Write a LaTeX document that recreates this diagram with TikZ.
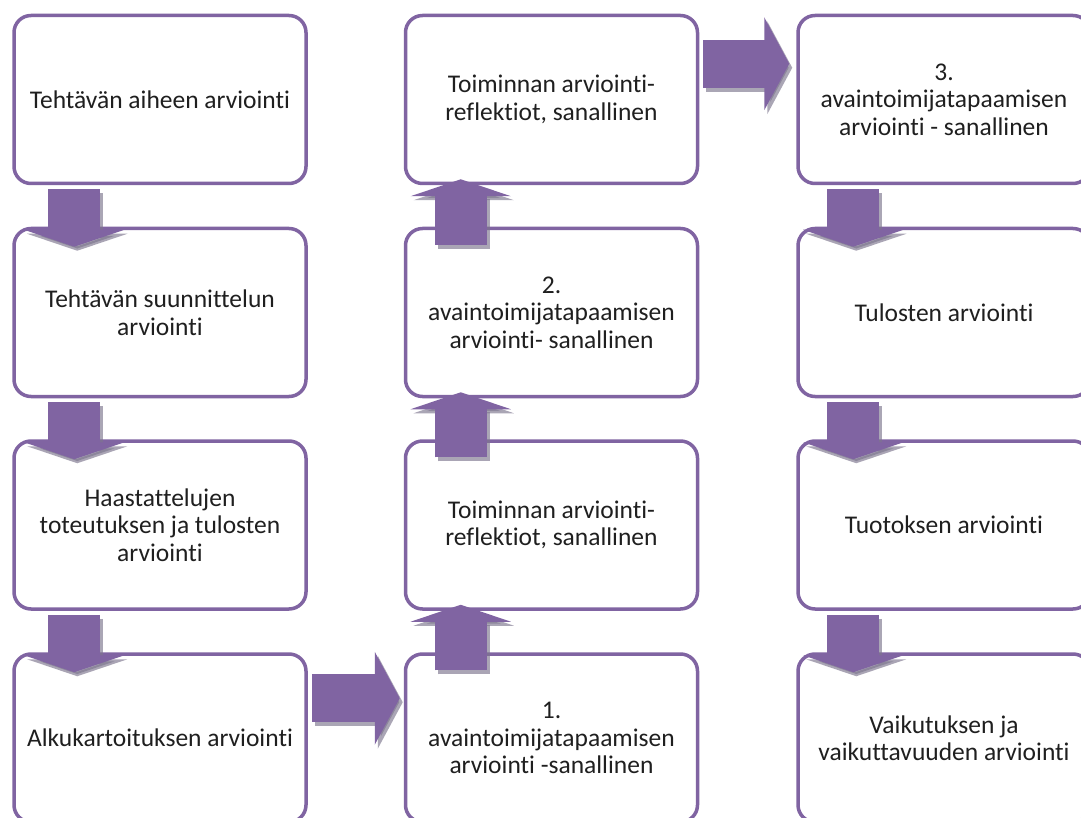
\documentclass[tikz,border=0pt]{standalone}
\usepackage{fontspec}
\setmainfont{Carlito}[Ligatures=NoCommon]
\usepackage{tikz}
\usetikzlibrary{calc,arrows.meta}
\definecolor{vio}{RGB}{128,100,162}
\definecolor{varjo}{RGB}{125,118,142}

\begin{document}
\begin{tikzpicture}[x=1pt,y=-1pt,
  laatikko/.style={draw=vio,line width=3.5pt,rounded corners=17pt,fill=white,
    minimum width=292pt,minimum height=168pt,inner sep=0pt,align=center,
    font=\fontsize{25.5}{27.5}\selectfont,text=black!88},
  pysty/.style={line width=52pt,-{Triangle[width=100pt,length=17pt]}},
  vaaka/.style={line width=48pt,-{Triangle[width=92pt,length=25pt]}},
  varjo/.style={draw=varjo,opacity=0.65,transform canvas={xshift=3pt,yshift=-4pt}},
  nuoli/.style={draw=vio}]
\path[use as bounding box,clip] (0,0) rectangle (1081,818);
\node[laatikko] (aihe) at (160,99.5) {Tehtävän aiheen arviointi};
\node[laatikko] (suunn) at (160,312.5) {Tehtävän suunnittelun\\arviointi};
\node[laatikko] (haast) at (160,525) {Haastattelujen\\toteutuksen ja tulosten\\arviointi};
\node[laatikko] (alku) at (160,738) {Alkukartoituksen arviointi};
\node[laatikko] (avain1) at (551.5,738) {1.\\avaintoimijatapaamisen\\arviointi -sanallinen};
\node[laatikko] (refl1) at (551.5,525) {Toiminnan arviointi-\\reflektiot, sanallinen};
\node[laatikko] (avain2) at (551.5,312.5) {2.\\avaintoimijatapaamisen\\arviointi- sanallinen};
\node[laatikko] (refl2) at (551.5,99.5) {Toiminnan arviointi-\\reflektiot, sanallinen};
\node[laatikko] (avain3) at (944,99.5) {3.\\avaintoimijatapaamisen\\arviointi - sanallinen};
\node[laatikko] (tulos) at (944,312.5) {Tulosten arviointi};
\node[laatikko] (tuotos) at (944,525) {Tuotoksen arviointi};
\node[laatikko] (vaikutus) at (944,738) {Vaikutuksen ja\\vaikuttavuuden arviointi};
\foreach \st in {varjo,nuoli}{
  \draw[pysty,\st] ($(aihe.south west)+(62,4)$) to ($(suunn.north west)+(62,20)$);
  \draw[pysty,\st] ($(suunn.south west)+(62,4)$) to ($(haast.north west)+(62,20)$);
  \draw[pysty,\st] ($(haast.south west)+(62,4)$) to ($(alku.north west)+(62,20)$);
  \draw[vaaka,\st] ($(alku.north east)+(4,46)$) to ($(avain1.north west)+(-4,46)$);
  \draw[pysty,\st] ($(avain1.north west)+(57,18)$) to ($(refl1.south west)+(57,-6)$);
  \draw[pysty,\st] ($(refl1.north west)+(57,18)$) to ($(avain2.south west)+(57,-6)$);
  \draw[pysty,\st] ($(avain2.north west)+(57,18)$) to ($(refl2.south west)+(57,-6)$);
  \draw[vaaka,\st] ($(refl2.north east)+(4,50)$) to ($(avain3.north west)+(-7,50)$);
  \draw[pysty,\st] ($(avain3.south west)+(57,4)$) to ($(tulos.north west)+(57,20)$);
  \draw[pysty,\st] ($(tulos.south west)+(57,4)$) to ($(tuotos.north west)+(57,20)$);
  \draw[pysty,\st] ($(tuotos.south west)+(57,4)$) to ($(vaikutus.north west)+(57,20)$);
}
\end{tikzpicture}
\end{document}
